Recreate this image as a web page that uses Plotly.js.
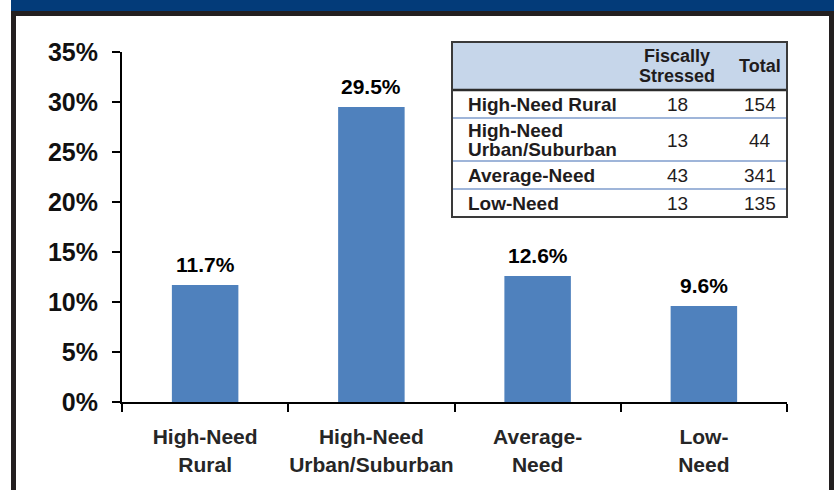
<!DOCTYPE html>
<html>
<head>
<meta charset="utf-8">
<script src="https://cdn.plot.ly/plotly-3.0.1.min.js"></script>
<style>
  html, body { margin: 0; padding: 0; background: #fff; }
  #chart { width: 836px; height: 490px; }
</style>
</head>
<body>
<div id="chart"></div>
<script>
// ---- data ----
const categories = ['High-Need<br>Rural', 'High-Need<br>Urban/Suburban', 'Average-<br>Need', 'Low-<br>Need'];
const pctFiscallyStressed = [11.7, 29.5, 12.6, 9.6];
const yTicks = [0, 5, 10, 15, 20, 25, 30, 35];

const tableHeaders = ['', 'Fiscally<br>Stressed', 'Total'];
const tableRowLabels = ['High-Need Rural', 'High-Need<br>Urban/Suburban', 'Average-Need', 'Low-Need'];
const fiscallyStressedCount = [18, 13, 43, 13];
const totalCount = [154, 44, 341, 135];

// ---- geometry (pixels) ----
const W = 836, H = 490;
const M = { l: 122, r: 49, t: 52, b: 88 };
const PW = W - M.l - M.r, PH = H - M.t - M.b;
const px = v => (v - M.l) / PW;          // pixel x -> paper
const py = v => (H - M.b - v) / PH;      // pixel y -> paper

const FONT = 'Liberation Sans, Arial, Helvetica, sans-serif';
const INK = '#1f1c1d';

const shapes = [];
const annotations = [];

// frame: navy band + dark border
shapes.push({ type: 'rect', xref: 'paper', yref: 'paper', x0: px(11), x1: px(834), y0: py(0), y1: py(12),
  fillcolor: '#033b79', line: { width: 0 }, layer: 'above' });
shapes.push({ type: 'rect', xref: 'paper', yref: 'paper', x0: px(13.5), x1: px(831.5), y0: py(13.5), y1: py(496),
  fillcolor: 'rgba(0,0,0,0)', line: { color: '#231f20', width: 5 }, layer: 'above' });

// table
const T = { x0: 452, x1: 787, top: 42, headerH: 48, rowBase: 13, rowPerLine: 15, col1: 466, col2: 677, col3: 760 };
shapes.push({ type: 'rect', xref: 'paper', yref: 'paper', x0: px(T.x0), x1: px(T.x1), y0: py(T.top), y1: py(T.top + T.headerH),
  fillcolor: '#c6d6ea', line: { width: 0 } });

function addLines(text, x, yCenter, xanchor, weight, size, spacing) {
  const parts = text.split('<br>');
  const n = parts.length;
  parts.forEach((p, k) => {
    const yc = yCenter + (k - (n - 1) / 2) * spacing;
    annotations.push({ xref: 'paper', yref: 'paper', x: px(x), y: py(yc), text: p, showarrow: false,
      xanchor: xanchor, yanchor: 'middle', font: { family: FONT, size: size, color: INK, weight: weight } });
  });
}

// header texts
addLines(tableHeaders[1], T.col2, T.top + T.headerH / 2, 'center', 700, 18, 20);
addLines(tableHeaders[2], T.col3, T.top + T.headerH / 2, 'center', 700, 18, 20);

let yCur = T.top + T.headerH;
shapes.push({ type: 'line', xref: 'paper', yref: 'paper', x0: px(T.x0), x1: px(T.x1), y0: py(yCur), y1: py(yCur),
  line: { color: '#2b2b2b', width: 2.5 } });
tableRowLabels.forEach((lab, i) => {
  const nLines = lab.split('<br>').length;
  const h = T.rowBase + T.rowPerLine * nLines;
  const yc = yCur + h / 2 + 0.5;
  addLines(lab, T.col1, yc, 'left', 700, 19, 18.5);
  addLines(String(fiscallyStressedCount[i]), T.col2, yc, 'center', 400, 19, 18);
  addLines(String(totalCount[i]), T.col3, yc, 'center', 400, 19, 18);
  yCur += h;
  if (i < tableRowLabels.length - 1) {
    shapes.push({ type: 'line', xref: 'paper', yref: 'paper', x0: px(T.x0), x1: px(T.x1), y0: py(yCur), y1: py(yCur),
      line: { color: '#7f9dcc', width: 1.5 } });
  }
});
shapes.push({ type: 'rect', xref: 'paper', yref: 'paper', x0: px(T.x0), x1: px(T.x1), y0: py(T.top), y1: py(yCur),
  fillcolor: 'rgba(0,0,0,0)', line: { color: '#3a3a3a', width: 2 } });

// bar value labels
categories.forEach((c, i) => {
  annotations.push({ xref: 'x', yref: 'y', x: c, y: pctFiscallyStressed[i], text: pctFiscallyStressed[i].toFixed(1) + '%',
    showarrow: false, yanchor: 'bottom', yshift: 7, font: { family: FONT, size: 21, color: '#000', weight: 700 } });
});

const trace = {
  type: 'bar', x: categories, y: pctFiscallyStressed,
  marker: { color: '#4f81bd', line: { width: 0 } },
  hoverinfo: 'skip'
};

const layout = {
  width: W, height: H,
  margin: M,
  paper_bgcolor: '#fff', plot_bgcolor: '#fff',
  showlegend: false,
  bargap: 0.6,
  font: { family: FONT, color: INK },
  xaxis: {
    type: 'category', range: [-0.5, 3.5], tickson: 'boundaries', tickangle: 0,
    ticks: 'outside', ticklen: 8, tickwidth: 2, tickcolor: '#000',
    showline: true, linecolor: '#000', linewidth: 2, showgrid: false, zeroline: false,
    tickfont: { family: FONT, size: 21, color: '#262626', weight: 700 },
    ticklabelstandoff: 15, fixedrange: true
  },
  yaxis: {
    range: [0, 35], tickvals: yTicks, ticktext: yTicks.map(v => v + '%'),
    ticks: 'outside', ticklen: 8, tickwidth: 2, tickcolor: '#000',
    showline: true, linecolor: '#000', linewidth: 2, showgrid: false, zeroline: false,
    tickfont: { family: FONT, size: 25, color: '#111', weight: 700 },
    ticklabelstandoff: 9, fixedrange: true
  },
  shapes: shapes,
  annotations: annotations
};

Plotly.newPlot('chart', [trace], layout, { displayModeBar: false, staticPlot: true });
</script>
</body>
</html>
